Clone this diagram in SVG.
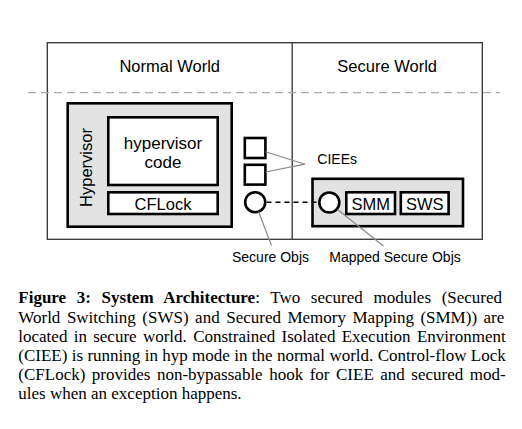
<svg xmlns="http://www.w3.org/2000/svg" width="522" height="429" viewBox="0 0 522 429">
<style>
  .frame{fill:none;stroke:#333;stroke-width:1.3}
  .sep{fill:none;stroke:#aaa;stroke-width:1.3;stroke-dasharray:8 5}
  .box{stroke:#000;stroke-width:2.6}
  .grey{fill:#e2e2e2}
  .white{fill:#fff}
  .lead{fill:none;stroke:#888;stroke-width:1.2}
  .link{fill:none;stroke:#000;stroke-width:1.4;stroke-dasharray:5 4}
  .sans{font-family:"Liberation Sans",Arial,Helvetica,sans-serif;fill:#000}
  .big{font-size:16.5px}
  .small{font-size:14px}
  .cap{font-family:"Liberation Serif","Times New Roman",serif;font-size:17px;fill:#000}
  .b{font-weight:bold}
</style>
<rect width="522" height="429" fill="#fff"/>
<g id="frame">
  <rect class="frame" x="47.3" y="42.7" width="435" height="196.6"/>
  <line class="frame" x1="292.2" y1="42.7" x2="292.2" y2="239.3"/>
  <line class="sep" x1="28" y1="92.7" x2="500" y2="92.7"/>
  <text class="sans big" x="169.7" y="71.7" text-anchor="middle">Normal World</text>
  <text class="sans big" x="387.2" y="71.7" text-anchor="middle">Secure World</text>
</g>
<g id="hypervisor">
  <rect class="box grey" x="67.7" y="103.3" width="164" height="123.4"/>
  <text class="sans big" transform="translate(92.2,167.5) rotate(-90)" text-anchor="middle">Hypervisor</text>
</g>
<g id="hypervisor-code">
  <rect class="box white" x="108.3" y="117.3" width="109.4" height="67.7"/>
  <text class="sans" font-size="17" x="163" y="149" text-anchor="middle">hypervisor</text>
  <text class="sans" font-size="17" x="163" y="167.7" text-anchor="middle">code</text>
</g>
<g id="cflock">
  <rect class="box white" x="108.3" y="192.3" width="109.4" height="21.7"/>
  <text class="sans big" x="163" y="209.8" text-anchor="middle">CFLock</text>
</g>
<g id="ciee1">
  <rect class="box white" x="244.8" y="138" width="20.6" height="20"/>
</g>
<g id="ciee2">
  <rect class="box white" x="244.8" y="164.8" width="20.6" height="19.8"/>
</g>
<g id="secure-obj">
  <circle class="box white" cx="255.2" cy="202.2" r="10"/>
</g>
<g id="secure-box">
  <rect class="box grey" x="312.5" y="178.8" width="150.5" height="47.4"/>
</g>
<g id="mapped-obj">
  <circle class="box white" cx="329.3" cy="202.5" r="10"/>
</g>
<g id="smm">
  <rect class="box white" x="346.3" y="192.3" width="48.7" height="21.7"/>
  <text class="sans big" x="370.7" y="209.8" text-anchor="middle">SMM</text>
</g>
<g id="sws">
  <rect class="box white" x="400.8" y="192.3" width="47.8" height="21.7"/>
  <text class="sans big" x="424.7" y="209.8" text-anchor="middle">SWS</text>
</g>
<g id="connectors">
  <line class="link" x1="266.5" y1="202.3" x2="318" y2="202.3"/>
  <polyline class="lead" points="265.5,151.7 305,164.2 265.5,172"/>
  <line class="lead" x1="258.5" y1="211.5" x2="271.5" y2="245.5"/>
  <line class="lead" x1="337.5" y1="209.5" x2="383.5" y2="246"/>
</g>
<g id="labels">
  <text class="sans small" x="317.3" y="164.2">CIEEs</text>
  <text class="sans small" x="270.5" y="262" text-anchor="middle">Secure Objs</text>
  <text class="sans small" x="395" y="262" text-anchor="middle">Mapped Secure Objs</text>
</g>
<g id="caption" class="cap">
  <text x="18.3" y="303.3" word-spacing="6.4"><tspan class="b">Figure 3: System Architecture</tspan>: Two secured modules (Secured</text>
  <text x="18.3" y="322.5" word-spacing="2.26">World Switching (SWS) and Secured Memory Mapping (SMM)) are</text>
  <text x="18.3" y="341.7" word-spacing="2.05">located in secure world. Constrained Isolated Execution Environment</text>
  <text x="18.3" y="360.9" word-spacing="0.1">(CIEE) is running in hyp mode in the normal world. Control-flow Lock</text>
  <text x="18.3" y="380.1" word-spacing="2.26">(CFLock) provides non-bypassable hook for CIEE and secured mod-</text>
  <text x="18.3" y="399.3">ules when an exception happens.</text>
</g>
</svg>
